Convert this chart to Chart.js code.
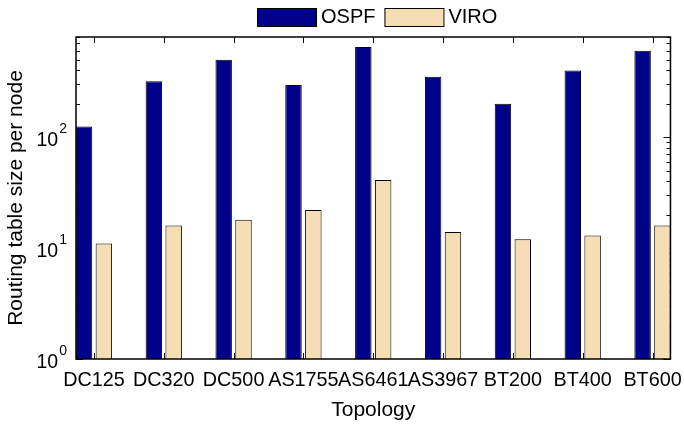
<!DOCTYPE html>
<html>
<head>
  <title>Routing table size per node</title>
  <style>
    html, body { margin: 0; padding: 0; background: #fff; }
  </style>
</head>
<body>
  <canvas id="chart" width="684" height="424"></canvas>

  <script src="https://cdn.jsdelivr.net/npm/chart.js"></script>
  <script>
    const topologies = ['DC125', 'DC320', 'DC500', 'AS1755', 'AS6461', 'AS3967', 'BT200', 'BT400', 'BT600'];
    const ospf = [125, 320, 500, 295, 650, 350, 200, 400, 600];
    const viro = [11, 16, 18, 22, 41, 14, 12, 13, 16];
    const yDecades = [1, 10, 100];

    // minor log ticks 1..9 per decade, up to the axis top
    const yMax = 800;
    const yTickValues = [];
    yDecades.forEach(d => {
      for (let k = 1; k <= 9; k++) {
        if (d * k <= yMax) yTickValues.push(d * k);
      }
    });

    const FONT = '"Liberation Sans", Arial, Helvetica, sans-serif';
    Chart.defaults.font.family = FONT;
    Chart.defaults.color = '#000';

    // matlab style box, inward ticks, 10^n labels and legend
    const matlabAxes = {
      id: 'matlabAxes',
      beforeDatasetsDraw(chart) {
        const { ctx, chartArea: a, scales: { x, y } } = chart;
        ctx.save();
        ctx.strokeStyle = '#000';
        ctx.lineWidth = 1;
        ctx.beginPath();
        y.ticks.forEach(t => {
          const py = Math.round(y.getPixelForValue(t.value)) + 0.5;
          const len = t.major ? 7 : 4;
          ctx.moveTo(a.left, py); ctx.lineTo(a.left + len, py);
          ctx.moveTo(a.right, py); ctx.lineTo(a.right - len, py);
        });
        x.ticks.forEach(t => {
          const px = Math.round(x.getPixelForValue(t.value)) + 0.5;
          ctx.moveTo(px, a.top); ctx.lineTo(px, a.top + 6);
          ctx.moveTo(px, a.bottom); ctx.lineTo(px, a.bottom - 6);
        });
        ctx.stroke();
        ctx.restore();
      },
      afterDraw(chart) {
        const { ctx, chartArea: a, scales: { y } } = chart;
        ctx.save();
        ctx.strokeStyle = '#000';
        ctx.lineWidth = 1.5;
        ctx.strokeRect(a.left, a.top, a.right - a.left, a.bottom - a.top);

        // y tick labels as 10 with superscript exponent
        ctx.fillStyle = '#000';
        ctx.textBaseline = 'alphabetic';
        ctx.textAlign = 'right';
        yDecades.forEach(v => {
          const py = y.getPixelForValue(v);
          const exp = String(Math.round(Math.log10(v)));
          ctx.font = '14px ' + FONT;
          const right = a.left - 9;
          ctx.fillText(exp, right, py - 4);
          const ew = ctx.measureText(exp).width;
          ctx.font = '19.5px ' + FONT;
          ctx.fillText('10', right - ew - 1, py + 8.5);
        });

        // legend
        let lx = 257;
        ctx.font = '20px ' + FONT;
        ctx.textAlign = 'left';
        ctx.textBaseline = 'middle';
        chart.data.datasets.forEach(ds => {
          ctx.fillStyle = ds.backgroundColor;
          ctx.fillRect(lx, 8, 59, 18);
          ctx.lineWidth = 1;
          ctx.strokeRect(lx + 0.5, 8.5, 59, 18);
          ctx.fillStyle = '#000';
          ctx.fillText(ds.label, lx + 64, 17.5);
          lx += 64 + ctx.measureText(ds.label).width + 9;
        });
        ctx.restore();
      }
    };

    new Chart(document.getElementById('chart'), {
      type: 'bar',
      data: {
        datasets: [
          {
            label: 'OSPF',
            data: ospf.map((v, i) => ({ x: i, y: v })),
            backgroundColor: '#000088',
            borderColor: '#000',
            borderWidth: 1
          },
          {
            label: 'VIRO',
            data: viro.map((v, i) => ({ x: i, y: v })),
            backgroundColor: '#F5DEB3',
            borderColor: '#000',
            borderWidth: 1
          }
        ]
      },
      options: {
        responsive: false,
        devicePixelRatio: 1,
        animation: false,
        barPercentage: 0.83,
        categoryPercentage: 0.568,
        layout: { padding: { top: 37, right: 11, left: 0, bottom: 0 } },
        plugins: {
          legend: { display: false },
          tooltip: { enabled: false }
        },
        scales: {
          x: {
            type: 'linear',
            offset: false,
            min: -0.257,
            max: 8.257,
            afterBuildTicks: s => { s.ticks = topologies.map((_, i) => ({ value: i })); },
            afterFit: s => { s.height = 65; },
            grid: { display: false },
            border: { display: false },
            ticks: {
              autoSkip: false,
              maxRotation: 0,
              padding: 2,
              font: { size: 19.8 },
              color: '#000',
              callback: v => topologies[v]
            },
            title: {
              display: true,
              text: 'Topology',
              font: { size: 21 },
              color: '#000',
              padding: { top: 0, bottom: 1 }
            }
          },
          y: {
            type: 'logarithmic',
            min: 1,
            max: yMax,
            afterBuildTicks: s => {
              s.ticks = yTickValues.map(v => ({ value: v, major: yDecades.includes(v) }));
            },
            afterFit: s => { s.width = 76; },
            grid: { display: false },
            border: { display: false },
            ticks: { display: false },
            title: {
              display: true,
              text: 'Routing table size per node',
              font: { size: 21 },
              color: '#000',
              padding: { top: 4, bottom: 0 }
            }
          }
        }
      },
      plugins: [matlabAxes]
    });
  </script>
</body>
</html>
